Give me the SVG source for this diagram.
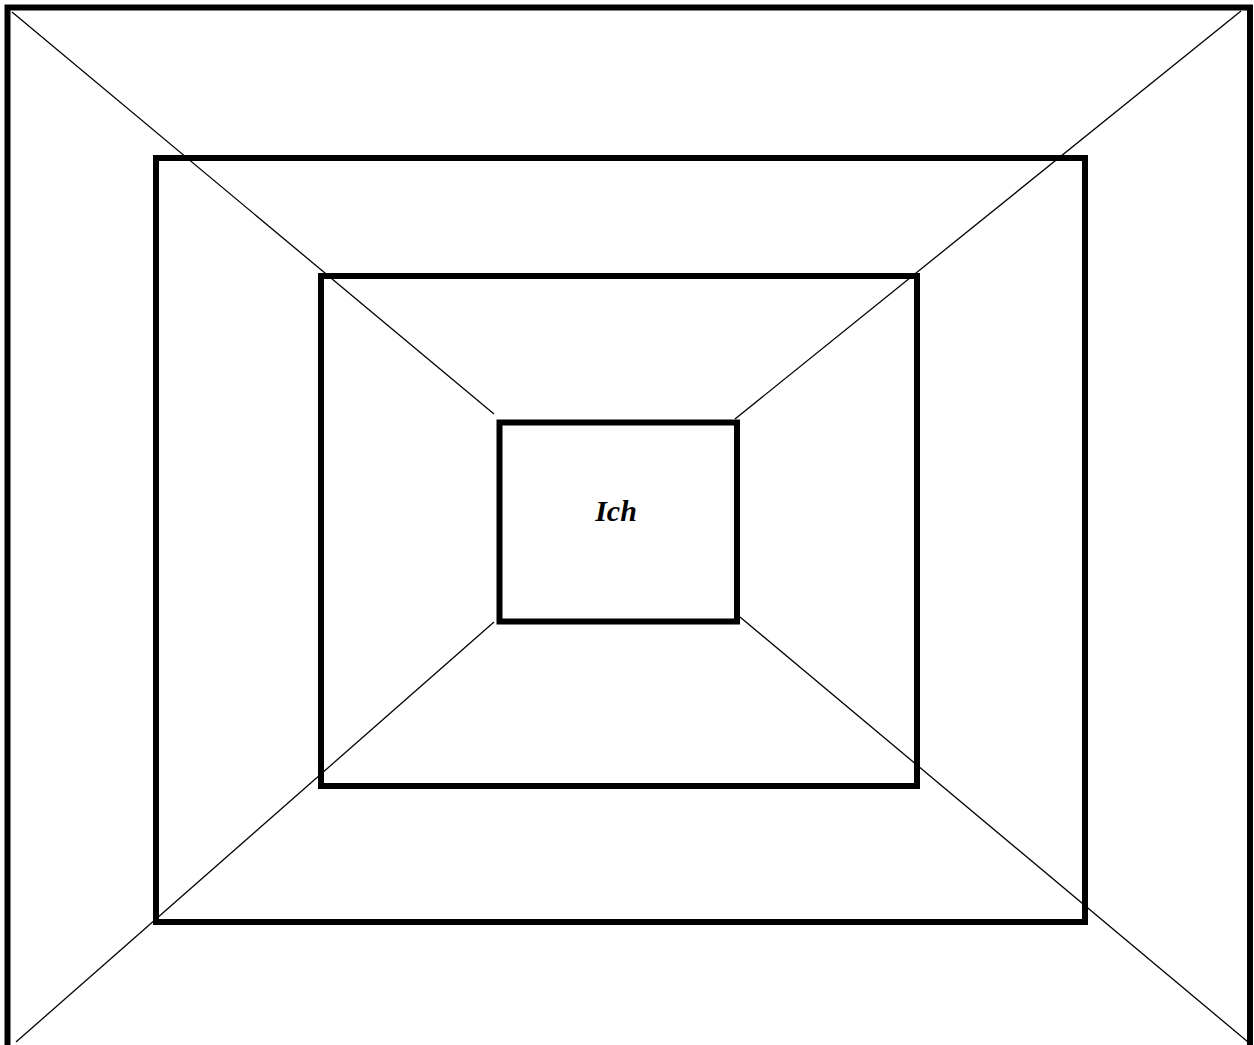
<svg xmlns="http://www.w3.org/2000/svg" width="1254" height="1045" viewBox="0 0 1254 1045">
<style>
.box{fill:none;stroke:#000;stroke-width:6}
.ln{fill:none;stroke:#000;stroke-width:1.3}
.lbl{font-family:"Liberation Serif",serif;font-weight:bold;font-style:italic;font-size:30px;fill:#000}
</style>
<rect width="1254" height="1045" fill="#fff"/>
<g id="connectors">
<line class="ln" x1="12" y1="12" x2="494" y2="414"/>
<line class="ln" x1="1241" y1="11" x2="735" y2="419"/>
<line class="ln" x1="16" y1="1042" x2="494" y2="622"/>
<line class="ln" x1="1248" y1="1042" x2="740" y2="617"/>
</g>
<g id="outer"><rect class="box" x="7.5" y="7.5" width="1242.5" height="1050"/></g>
<g id="middle"><rect class="box" x="156" y="158" width="929" height="764"/></g>
<g id="inner"><rect class="box" x="321" y="276" width="596" height="510"/></g>
<g id="ich"><rect class="box" x="499.5" y="422.5" width="237.5" height="199"/>
<text class="lbl" x="616" y="521" text-anchor="middle">Ich</text></g>
</svg>
